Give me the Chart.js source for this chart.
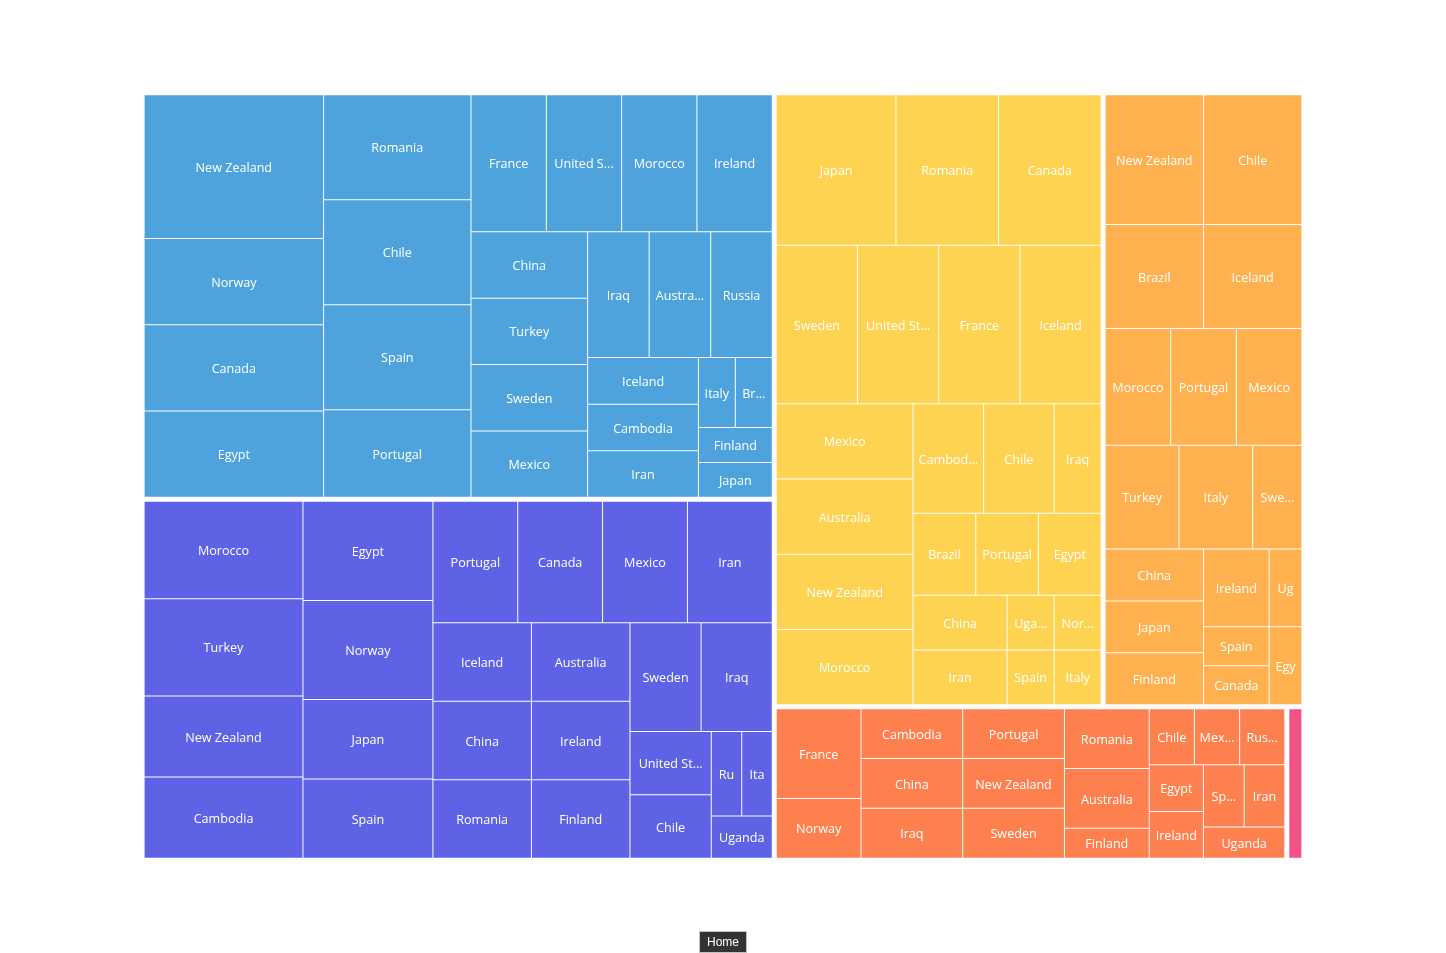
<!DOCTYPE html>
<html>
<head>
<meta charset="utf-8">
<script src="https://cdn.jsdelivr.net/npm/chart.js@4.4.1/dist/chart.umd.min.js"></script>
<style>
html,body{margin:0;padding:0;background:#ffffff;overflow:hidden;}
#box{position:relative;width:1446px;height:953px;}
</style>
</head>
<body>
<div id="box"><canvas id="chart"></canvas></div>
<script>
// ---------------- DATA ----------------
const groupNames  = ['Group 1', 'Group 2', 'Group 3', 'Group 4', 'Group 5', 'Group 6'];
const groupColors = ['#4fa3dc', '#5e62e4', '#ffd352', '#ffb14f', '#ff804f', '#f25186'];

const group1Names  = ['New Zealand','Norway','Canada','Egypt','Romania','Chile','Spain','Portugal','France','United States','Morocco','Ireland','China','Turkey','Sweden','Mexico','Iraq','Australia','Russia','Iceland','Cambodia','Iran','Italy','Brazil','Finland','Japan'];
const group1Values = [10,6,6,6,6,6,6,5,4,4,4,4,3,3,3,3,3,3,3,2,2,2,1,1,1,1];

const group2Names  = ['Morocco','Turkey','New Zealand','Cambodia','Egypt','Norway','Japan','Spain','Portugal','Canada','Mexico','Iran','Iceland','China','Romania','Australia','Ireland','Finland','Sweden','Iraq','United States','Chile','Russia','Italy','Uganda'];
const group2Values = [6,6,5,5,5,5,4,4,4,4,4,4,3,3,3,3,3,3,3,3,2,2,1,1,1];

const group3Names  = ['Japan','Romania','Canada','Sweden','United States','France','Iceland','Mexico','Australia','New Zealand','Morocco','Cambodia','Chile','Iraq','Brazil','Portugal','Egypt','China','Iran','Uganda','Norway','Spain','Italy'];
const group3Values = [7,6,6,5,5,5,5,4,4,4,4,3,3,2,2,2,2,2,2,1,1,1,1];

const group4Names  = ['New Zealand','Chile','Brazil','Iceland','Morocco','Portugal','Mexico','Turkey','Italy','Sweden','China','Japan','Finland','Ireland','Uganda','Spain','Canada','Egypt'];
const group4Values = [5,5,4,4,3,3,3,3,3,2,2,2,2,2,1,1,1,1];

const group5Names  = ['France','Norway','Cambodia','China','Iraq','Portugal','New Zealand','Sweden','Romania','Australia','Finland','Chile','Mexico','Russia','Egypt','Ireland','Spain','Iran','Uganda'];
const group5Values = [3,2,2,2,2,2,2,2,2,2,1,1,1,1,1,1,1,1,1];

const group6Names  = ['Brazil'];
const group6Values = [1];

const groupLeafNames  = [group1Names, group2Names, group3Names, group4Names, group5Names, group6Names];
const groupLeafValues = [group1Values, group2Values, group3Values, group4Values, group5Values, group6Values];

const leafData = [];
groupLeafNames.forEach((names, gi) => {
  names.forEach((n, i) => leafData.push({ group: gi, name: n, value: groupLeafValues[gi][i] }));
});

// ---------------- SQUARIFIED LAYOUT (ECharts-style) ----------------
const PHI = 0.5 * (1 + Math.sqrt(5));

function worst(row, fixed, ratio) {
  let aMax = 0, aMin = Infinity;
  for (const n of row) {
    const a = n.area;
    if (a) { if (a < aMin) aMin = a; if (a > aMax) aMax = a; }
  }
  const sq = row.area * row.area;
  const f = fixed * fixed * ratio;
  return sq ? Math.max(f * aMax / sq, sq / (f * aMin)) : Infinity;
}

function position(row, fixed, rect, half, flush) {
  const h0 = fixed === rect.width ? 0 : 1;
  const h1 = 1 - h0;
  const xy = ['x', 'y'], wh = ['width', 'height'];
  let last = rect[xy[h0]];
  let other = fixed ? row.area / fixed : 0;
  if (flush || other > rect[wh[h1]]) other = rect[wh[h1]];
  for (let i = 0; i < row.length; i++) {
    const n = row[i];
    const L = {};
    const step = other ? n.area / other : 0;
    const wh1 = L[wh[h1]] = Math.max(other - 2 * half, 0);
    const remain = rect[xy[h0]] + rect[wh[h0]] - last;
    const modWH = (i === row.length - 1 || remain < step) ? remain : step;
    const wh0 = L[wh[h0]] = Math.max(modWH - 2 * half, 0);
    L[xy[h1]] = rect[xy[h1]] + Math.min(half, wh1 / 2);
    L[xy[h0]] = last + Math.min(half, wh0 / 2);
    last += modWH;
    n.rect = { x: L.x, y: L.y, w: L.width, h: L.height };
  }
  rect[xy[h1]] += other;
  rect[wh[h1]] -= other;
}

function layoutNode(node, x, y, w, h, depth, levels, out) {
  node.rect = { x, y, w, h };
  if (!node.children) { out[node.index] = node.rect; return; }
  const lv = levels[depth] || { borderWidth: 0, gapWidth: 0 };
  const half = lv.gapWidth / 2;
  const off = lv.borderWidth - half;
  const width = Math.max(w - 2 * off, 0), height = Math.max(h - 2 * off, 0);
  const total = width * height;
  const kids = node.children.map((c, k) => ({ c, k }))
    .sort((a, b) => (b.c.value - a.c.value) || (a.k - b.k)).map(o => o.c);
  const sum = kids.reduce((s, k) => s + k.value, 0);
  kids.forEach(k => { k.area = k.value / sum * total; });
  const rect = { x: x + off, y: y + off, width, height };
  let fixed = Math.min(width, height);
  let best = Infinity;
  const row = []; row.area = 0;
  for (let i = 0; i < kids.length;) {
    const c = kids[i];
    row.push(c); row.area += c.area;
    const score = worst(row, fixed, PHI);
    if (score <= best) { i++; best = score; }
    else {
      row.area -= row.pop().area;
      position(row, fixed, rect, half, false);
      fixed = Math.min(rect.width, rect.height);
      row.length = 0; row.area = 0; best = Infinity;
    }
  }
  if (row.length) position(row, fixed, rect, half, true);
  kids.forEach(k => layoutNode(k, k.rect.x, k.rect.y, k.rect.w, k.rect.h, depth + 1, levels, out));
}

// ECharts-like label truncation
function estimateLength(text, contentWidth, asc, cn) {
  let width = 0, i = 0;
  for (; i < text.length && width < contentWidth; i++) {
    const cc = text.charCodeAt(i);
    width += (cc <= 127) ? asc : cn;
  }
  return i;
}
function truncateLabel(ctx, text, containerWidth) {
  const asc = ctx.measureText('a').width;
  const cn = ctx.measureText('国').width;
  containerWidth = Math.max(0, containerWidth - 1);
  let contentWidth = containerWidth;
  for (let i = 0; i < 2 && contentWidth >= asc; i++) contentWidth -= asc;
  let ellipsis = '...';
  let ellW = ctx.measureText(ellipsis).width;
  if (ellW > contentWidth) { ellipsis = ''; ellW = 0; }
  contentWidth = containerWidth - ellW;
  if (!containerWidth) return '';
  let lineWidth = ctx.measureText(text).width;
  if (lineWidth <= containerWidth) return text;
  for (let j = 0; ; j++) {
    if (lineWidth <= contentWidth || j >= 2) { text += ellipsis; break; }
    const sub = j === 0 ? estimateLength(text, contentWidth, asc, cn)
      : (lineWidth > 0 ? Math.floor(text.length * contentWidth / lineWidth) : 0);
    text = text.substr(0, sub);
    lineWidth = ctx.measureText(text).width;
  }
  return text;
}

// ---------------- CUSTOM CHART.JS CONTROLLER ----------------
class TreemapController extends Chart.DatasetController {
  parse(start, count) {
    const data = this.getDataset().data;
    const parsed = this._cachedMeta._parsed;
    for (let i = start; i < start + count; i++) parsed[i] = { x: i, y: data[i].value };
  }
  update(mode) {
    const meta = this._cachedMeta;
    this.updateElements(meta.data, 0, meta.data.length, mode);
  }
  computeLayout() {
    const meta = this._cachedMeta;
    const xs = meta.xScale, ys = meta.yScale;
    const ds = this.getDataset();
    const cfg = ds.tmLayout;
    const l = xs.getPixelForValue(cfg.x0), r = xs.getPixelForValue(cfg.x1);
    const t = ys.getPixelForValue(cfg.y0), b = ys.getPixelForValue(cfg.y1);
    const groups = ds.tmGroups.map(() => ({ value: 0, children: [], index: -1 }));
    ds.data.forEach((d, i) => {
      groups[d.group].children.push({ value: d.value, index: i, children: null });
      groups[d.group].value += d.value;
    });
    const root = { value: groups.reduce((s, g) => s + g.value, 0), children: groups.filter(g => g.value > 0) };
    const out = new Array(ds.data.length);
    layoutNode(root, Math.min(l, r), Math.min(t, b), Math.abs(r - l), Math.abs(b - t), 0, cfg.levels, out);
    return out;
  }
  updateElements(elements, start, count, mode) {
    const ds = this.getDataset();
    const rects = this.computeLayout();
    const ctx = this.chart.ctx;
    ctx.save();
    ctx.font = ds.tmFont;
    for (let i = start; i < start + count; i++) {
      const rc = rects[i];
      if (!rc || !isFinite(rc.x) || !isFinite(rc.w)) continue;
      const color = ds.tmColors[ds.data[i].group];
      const label = truncateLabel(ctx, ds.data[i].name, Math.max(rc.w - 2 * ds.tmLabelPadding, 0));
      const props = {
        x: rc.x + rc.w / 2, y: rc.y, base: rc.y + rc.h, width: rc.w, height: rc.h,
        horizontal: false, inflateAmount: 0, enableBorderRadius: false,
        borderSkipped: { top: false, bottom: false, left: false, right: false },
        options: { backgroundColor: color, borderColor: color, borderWidth: 0, borderRadius: 0, inflateAmount: 0 },
        $label: label
      };
      this.updateElement(elements[i], i, props, mode);
    }
    ctx.restore();
  }
  draw() {
    super.draw();
    const ctx = this.chart.ctx;
    const ds = this.getDataset();
    ctx.save();
    ctx.font = ds.tmFont;
    ctx.fillStyle = '#ffffff';
    ctx.textAlign = 'center';
    ctx.textBaseline = 'middle';
    for (const el of this._cachedMeta.data) {
      if (el.$label) ctx.fillText(el.$label, el.x, (el.y + el.base) / 2 + ds.tmLabelShift);
    }
    ctx.restore();
  }
}
TreemapController.id = 'treemap';
TreemapController.defaults = { datasetElementType: false, dataElementType: 'bar' };
TreemapController.overrides = { scales: { x: { type: 'linear' }, y: { type: 'linear' } } };
Chart.register(TreemapController);

// Breadcrumb ("Home") plugin
const breadcrumbPlugin = {
  id: 'breadcrumb',
  afterDraw(chart, args, opts) {
    const ctx = chart.ctx;
    ctx.save();
    ctx.font = opts.font;
    const tw = ctx.measureText(opts.text).width;
    const w = Math.max(tw + 16, 25), h = 22;
    const x = (chart.width - w) / 2, y = chart.height - h;
    ctx.fillStyle = 'rgba(0,0,0,0.8)';
    ctx.fillRect(x, y, w, h);
    ctx.strokeStyle = 'rgba(255,255,255,0.7)';
    ctx.lineWidth = 1;
    ctx.strokeRect(x + 0.5, y + 0.5, w - 1, h - 1);
    ctx.fillStyle = '#ffffff';
    ctx.textAlign = 'center';
    ctx.textBaseline = 'middle';
    ctx.fillText(opts.text, x + w / 2, y + h / 2 + 0.5);
    ctx.restore();
  }
};

new Chart(document.getElementById('chart'), {
  type: 'treemap',
  data: {
    labels: leafData.map(d => d.name),
    datasets: [{
      label: 'Countries',
      data: leafData,
      tmGroups: groupNames,
      tmColors: groupColors,
      tmFont: '12.6px "Open Sans"',
      tmLabelPadding: 5,
      tmLabelShift: 1.5,
      tmLayout: { x0: 10, x1: 90, y0: 10, y1: 90, levels: [{ borderWidth: 0, gapWidth: 5 }, { borderWidth: 0, gapWidth: 1 }] }
    }]
  },
  options: {
    responsive: true,
    maintainAspectRatio: false,
    animation: false,
    events: [],
    devicePixelRatio: 1,
    layout: { padding: 0 },
    plugins: {
      legend: { display: false },
      tooltip: { enabled: false },
      breadcrumb: { text: 'Home', font: '12px "Liberation Sans", Arial, sans-serif' }
    },
    scales: {
      x: { type: 'linear', min: 0, max: 100, display: false },
      y: { type: 'linear', min: 0, max: 100, reverse: true, display: false }
    }
  },
  plugins: [breadcrumbPlugin]
});
</script>
</body>
</html>
